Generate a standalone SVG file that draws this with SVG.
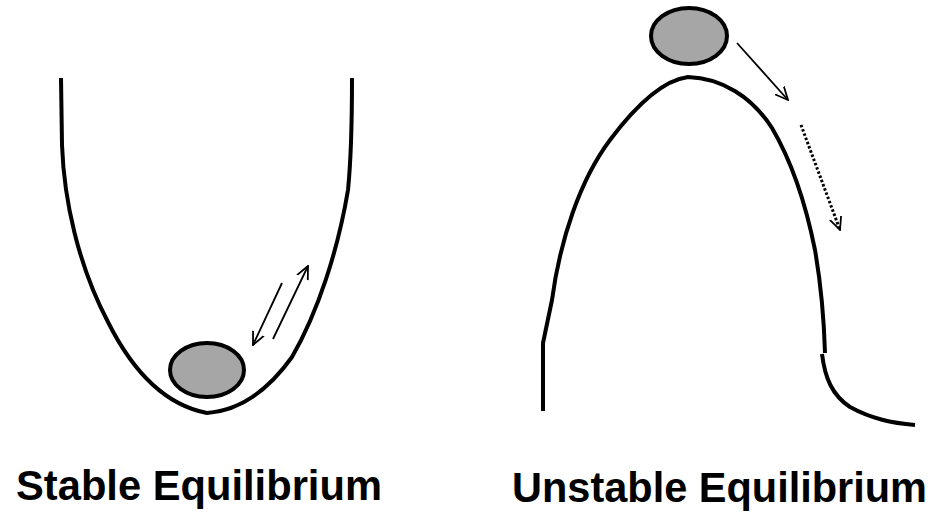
<svg xmlns="http://www.w3.org/2000/svg" width="936" height="515" viewBox="0 0 936 515">
<style>
.curve{fill:none;stroke:#000;stroke-width:4;stroke-linejoin:round}
.ball{fill:#a6a6a6;stroke:#000;stroke-width:4}
.arr{fill:none;stroke:#000;stroke-width:1.8}
.dot{fill:none;stroke:#000;stroke-width:3;stroke-dasharray:2.5 2}
.lbl{font-family:"Liberation Sans",Arial,sans-serif;font-weight:bold;font-size:42px;fill:#000}
</style>
<defs>
<marker id="ah" markerUnits="userSpaceOnUse" viewBox="0 0 14 14" refX="13" refY="7" markerWidth="14" markerHeight="14" orient="auto">
<path d="M0,1 L13,7 L0,13" fill="none" stroke="#000" stroke-width="1.8"/>
</marker>
</defs>
<g id="stable">
<path class="curve" d="M61,78 L62,145 C64,200 78,265 108,322 C132,370 165,405 207,413 C245,410 272,385 292,357 C318,312 338,250 348,190 C352,150 352,110 352,78"/>
<ellipse class="ball" cx="207" cy="370" rx="37" ry="27"/>
</g>
<g id="unstable">
<path class="curve" d="M543,411 L543,343 L552,300 C560,240 580,180 610,140 C640,100 665,80 688,77 C722,78 752,97 772,128 C792,162 806,205 815,250 C822,290 824,320 825,353"/>
<path class="curve" d="M822,354 C825,378 832,395 850,407 C872,419 892,423 915,425"/>
<ellipse class="ball" cx="689" cy="36" rx="38" ry="28"/>
</g>
<g id="connectors">
<line class="arr" x1="282" y1="283" x2="253" y2="345" marker-end="url(#ah)"/>
<line class="arr" x1="273" y1="339" x2="308" y2="266" marker-end="url(#ah)"/>
<line class="arr" x1="737" y1="43" x2="788" y2="100" marker-end="url(#ah)"/>
<line class="dot" x1="801" y1="125" x2="840" y2="230" marker-end="url(#ah)"/>
</g>
<text class="lbl" x="16" y="500" textLength="366" lengthAdjust="spacingAndGlyphs">Stable Equilibrium</text>
<text class="lbl" x="512" y="502" textLength="415" lengthAdjust="spacingAndGlyphs">Unstable Equilibrium</text>
</svg>
